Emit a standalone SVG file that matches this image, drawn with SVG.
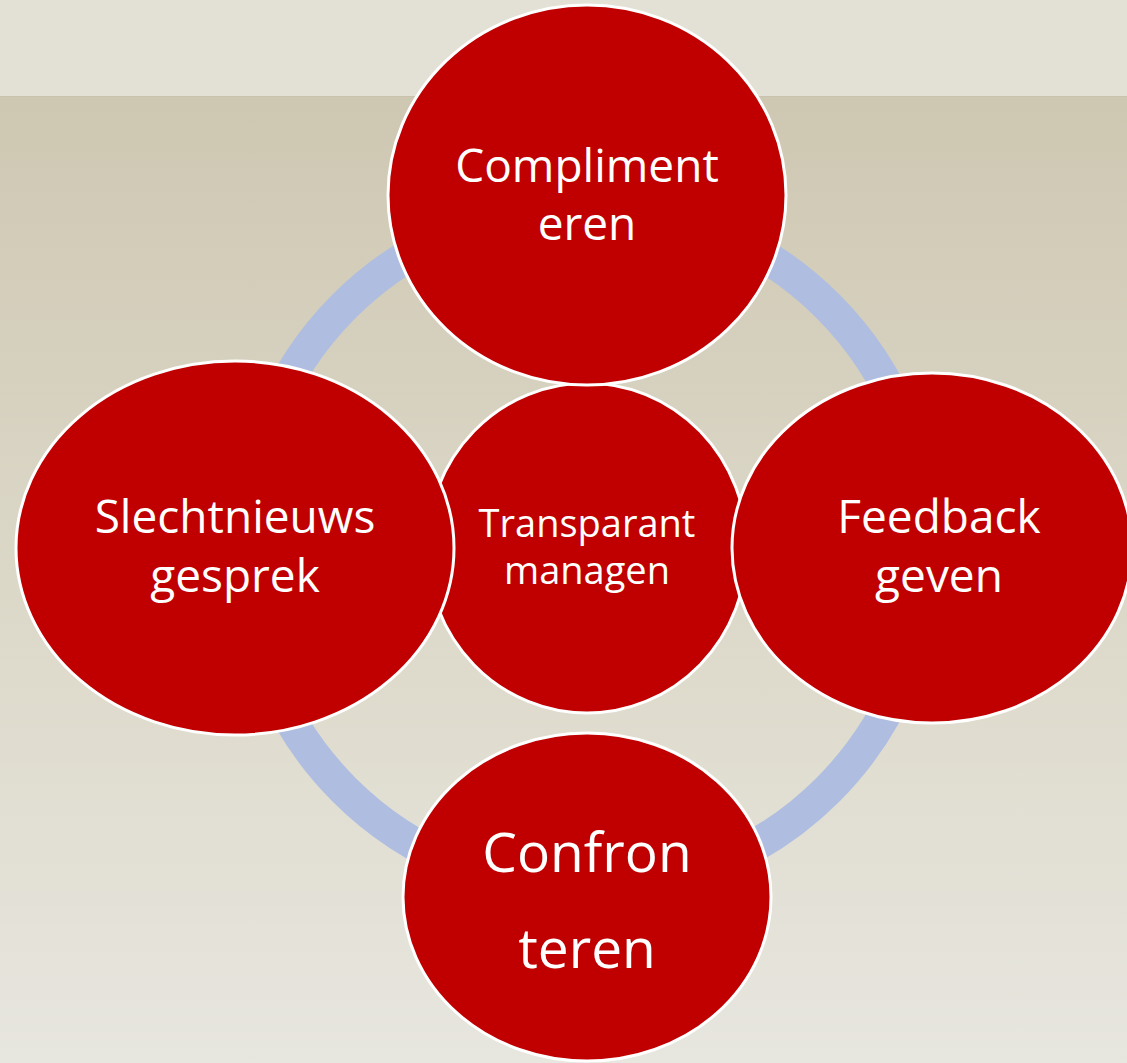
<svg xmlns="http://www.w3.org/2000/svg" width="1127" height="1063" viewBox="0 0 1127 1063">
  <defs>
    <linearGradient id="bg" x1="0" y1="0" x2="0" y2="1">
      <stop offset="0" stop-color="#cec7b2"/>
      <stop offset="0.5" stop-color="#dcd8c8"/>
      <stop offset="1" stop-color="#e7e6df"/>
    </linearGradient>
    <style>
      .node { fill: #c00000; stroke: #ffffff; stroke-width: 3; }
      .lbl { fill: #ffffff; font-family: "Open Sans", "Noto Sans", sans-serif; text-anchor: middle; }
    </style>
  </defs>
  <rect x="0" y="0" width="1127" height="1063" fill="#e3e0d5"/>
  <rect x="0" y="96" width="1127" height="967" fill="url(#bg)"/>
  <line x1="0" y1="96.5" x2="1127" y2="96.5" stroke="#c9c3ad" stroke-width="1"/>

  <g id="connectors">
    <circle cx="586" cy="548" r="342" fill="none" stroke="#afbde0" stroke-width="33"/>
  </g>

  <g id="node-center">
    <ellipse class="node" cx="587" cy="548" rx="160" ry="165"/>
    <text class="lbl" x="587" y="537" font-size="38">Transparant</text>
    <text class="lbl" x="587" y="584" font-size="38">managen</text>
  </g>
  <g id="node-top">
    <ellipse class="node" cx="587" cy="195" rx="199" ry="190"/>
    <text class="lbl" x="587" y="182" font-size="46">Compliment</text>
    <text class="lbl" x="587" y="240" font-size="46">eren</text>
  </g>
  <g id="node-left">
    <ellipse class="node" cx="235" cy="548" rx="219" ry="187"/>
    <text class="lbl" x="235" y="533" font-size="46">Slechtnieuws</text>
    <text class="lbl" x="235" y="592" font-size="46">gesprek</text>
  </g>
  <g id="node-right">
    <ellipse class="node" cx="932" cy="548" rx="200" ry="175"/>
    <text class="lbl" x="939" y="533" font-size="46">Feedback</text>
    <text class="lbl" x="939" y="592" font-size="46">geven</text>
  </g>
  <g id="node-bottom">
    <ellipse class="node" cx="587" cy="897" rx="184" ry="164"/>
    <text class="lbl" x="587" y="872" font-size="55">Confron</text>
    <text class="lbl" x="587" y="968" font-size="55">teren</text>
  </g>
</svg>
